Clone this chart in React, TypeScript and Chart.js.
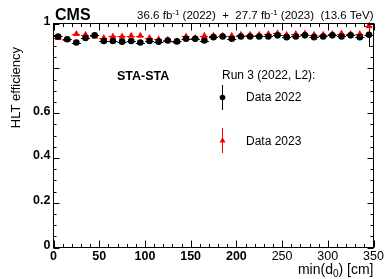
import { useEffect, useRef } from 'react';
import { Chart, registerables } from 'chart.js';

Chart.register(...registerables);

const binCenters = [5, 15, 25, 35, 45, 55, 65, 75, 85, 95, 105, 115, 125, 135, 145, 155, 165, 175, 185, 195, 205, 215, 225, 235, 245, 255, 265, 275, 285, 295, 305, 315, 325, 335, 345];
const binHalfWidth = 5;

const eff2022 = [0.942, 0.930, 0.915, 0.935, 0.947, 0.922, 0.922, 0.919, 0.922, 0.915, 0.922, 0.919, 0.924, 0.920, 0.932, 0.932, 0.924, 0.939, 0.942, 0.932, 0.942, 0.942, 0.942, 0.942, 0.947, 0.939, 0.942, 0.947, 0.939, 0.942, 0.947, 0.942, 0.947, 0.939, 0.950];
const err2022 = [0.005, 0.005, 0.005, 0.005, 0.005, 0.005, 0.005, 0.005, 0.005, 0.005, 0.005, 0.005, 0.005, 0.005, 0.005, 0.005, 0.005, 0.005, 0.005, 0.005, 0.005, 0.005, 0.005, 0.005, 0.005, 0.005, 0.005, 0.005, 0.005, 0.005, 0.005, 0.005, 0.005, 0.005, 0.055];

const eff2023 = [0.935, 0.927, 0.953, 0.950, 0.942, 0.935, 0.942, 0.942, 0.945, 0.945, 0.935, 0.930, 0.927, 0.919, 0.942, 0.935, 0.945, 0.945, 0.945, 0.945, 0.950, 0.950, 0.950, 0.953, 0.957, 0.950, 0.953, 0.955, 0.950, 0.950, 0.953, 0.955, 0.953, 0.953, 0.988];
const err2023 = [0.005, 0.005, 0.005, 0.005, 0.005, 0.005, 0.005, 0.005, 0.005, 0.005, 0.005, 0.005, 0.005, 0.005, 0.005, 0.005, 0.005, 0.005, 0.005, 0.005, 0.005, 0.005, 0.005, 0.005, 0.005, 0.005, 0.005, 0.005, 0.005, 0.005, 0.005, 0.005, 0.005, 0.005, 0.015];

const xMajorTicks = [0, 50, 100, 150, 200, 250, 300, 350];
const xTickLabels = ['0', '50', '100', '150', '200', '250', '300', '350'];
const xTickBold = [true, true, true, true, true, false, false, false];
const xMinorStep = 10;
const yMajorTicks = [0, 0.2, 0.4, 0.6, 0.8, 1];
const yTickLabels = ['0', '0.2', '0.4', '0.6', '', '1'];
const yMinorStep = 0.05;

const FONT = '"Liberation Sans", Arial, Helvetica, sans-serif';

const decor = {
  id: 'decor',
  beforeDatasetsDraw(chart: any) {
    const { ctx, scales } = chart;
    const x = scales.x, y = scales.y;
    ctx.save();
    ctx.lineWidth = 1;
    const drawErr = (vals: number[], errs: number[], color: string, dash: number[]) => {
      ctx.strokeStyle = color;
      vals.forEach((v, i) => {
        const c = binCenters[i];
        const px = Math.round(x.getPixelForValue(c)) + 0.5;
        const py = Math.round(y.getPixelForValue(v)) + 0.5;
        ctx.setLineDash(dash);
        ctx.beginPath();
        ctx.moveTo(x.getPixelForValue(c - binHalfWidth), py);
        ctx.lineTo(x.getPixelForValue(c + binHalfWidth), py);
        ctx.stroke();
        ctx.setLineDash([]);
        ctx.beginPath();
        ctx.moveTo(px, y.getPixelForValue(v - errs[i]));
        ctx.lineTo(px, y.getPixelForValue(v + errs[i]));
        ctx.stroke();
      });
    };
    drawErr(eff2022, err2022, '#000000', []);
    drawErr(eff2023, err2023, '#ff0000', [3, 2]);
    ctx.restore();
  },
  afterDraw(chart: any) {
    const { ctx, chartArea, scales } = chart;
    const x = scales.x, y = scales.y;
    const { left, right, top, bottom } = chartArea;
    ctx.save();
    ctx.strokeStyle = '#000';
    ctx.lineWidth = 1;
    ctx.setLineDash([]);
    ctx.strokeRect(left, top, right - left, bottom - top);

    // x ticks
    ctx.beginPath();
    for (let v = 0; v <= 350 + 1e-6; v += xMinorStep) {
      const px = Math.round(x.getPixelForValue(v)) + 0.5;
      const major = xMajorTicks.includes(Math.round(v));
      const len = major ? 7 : 3.5;
      ctx.moveTo(px, bottom);
      ctx.lineTo(px, bottom - len);
      ctx.moveTo(px, top);
      ctx.lineTo(px, top + len);
    }
    // y ticks
    for (let i = 0; i <= 20; i++) {
      const v = i * yMinorStep;
      const py = Math.round(y.getPixelForValue(v)) + 0.5;
      const major = i % 4 === 0;
      const len = major ? 6 : 3;
      ctx.moveTo(left, py);
      ctx.lineTo(left + len, py);
      ctx.moveTo(right, py);
      ctx.lineTo(right - len, py);
    }
    ctx.stroke();

    ctx.fillStyle = '#000';
    // y labels
    ctx.textAlign = 'right';
    ctx.textBaseline = 'middle';
    ctx.font = `bold 12.5px ${FONT}`;
    yMajorTicks.forEach((v, i) => {
      if (!yTickLabels[i]) return;
      ctx.fillText(yTickLabels[i], left - 3, y.getPixelForValue(v) - 2);
    });
    // x labels
    ctx.textAlign = 'center';
    ctx.textBaseline = 'alphabetic';
    xMajorTicks.forEach((v, i) => {
      ctx.font = `${xTickBold[i] ? 'bold ' : ''}12.5px ${FONT}`;
      ctx.fillText(xTickLabels[i], x.getPixelForValue(v), 260);
    });

    // x title with subscript
    const mainF = `14px ${FONT}`;
    const subF = `10px ${FONT}`;
    ctx.textAlign = 'left';
    ctx.font = mainF;
    const p1 = 'min(d', p3 = ') [cm]';
    const w1 = ctx.measureText(p1).width;
    const w3 = ctx.measureText(p3).width;
    ctx.font = subF;
    const w2 = ctx.measureText('0').width;
    const sx = right - (w1 + w2 + w3);
    const by = 274;
    ctx.font = mainF;
    ctx.fillText(p1, sx, by);
    ctx.font = subF;
    ctx.fillText('0', sx + w1, by + 3);
    ctx.font = mainF;
    ctx.fillText(p3, sx + w1 + w2, by);

    // y title
    ctx.save();
    ctx.translate(20, 47);
    ctx.rotate(-Math.PI / 2);
    ctx.textAlign = 'right';
    ctx.font = `13px ${FONT}`;
    ctx.fillText('HLT efficiency', 0, 0);
    ctx.restore();

    // CMS
    ctx.textAlign = 'left';
    ctx.font = `bold 16px ${FONT}`;
    ctx.fillText('CMS', 55, 20);

    // lumi text
    const lf = `11.5px ${FONT}`;
    const sf = `8px ${FONT}`;
    const parts: [string, boolean][] = [
      ['36.6 fb', false], ['-1', true], [' (2022)  +  27.7 fb', false], ['-1', true], [' (2023)  (13.6 TeV)', false],
    ];
    let total = 0;
    parts.forEach(([t, sup]) => { ctx.font = sup ? sf : lf; total += ctx.measureText(t).width; });
    let lx = right - total;
    parts.forEach(([t, sup]) => {
      ctx.font = sup ? sf : lf;
      ctx.fillText(t, lx, sup ? 14.5 : 18.5);
      lx += ctx.measureText(t).width;
    });

    // STA-STA
    ctx.font = `bold 12.5px ${FONT}`;
    ctx.fillText('STA-STA', 117, 80);

    // legend
    ctx.font = `12px ${FONT}`;
    ctx.fillText('Run 3 (2022, L2):', 222, 79);
    ctx.fillText('Data 2022', 246, 101);
    ctx.fillText('Data 2023', 246, 145);
    ctx.strokeStyle = '#000';
    ctx.beginPath();
    ctx.moveTo(222.5, 85);
    ctx.lineTo(222.5, 110);
    ctx.stroke();
    ctx.beginPath();
    ctx.arc(222.5, 97.5, 2.8, 0, Math.PI * 2);
    ctx.fillStyle = '#000';
    ctx.fill();
    ctx.strokeStyle = '#ff0000';
    ctx.beginPath();
    ctx.moveTo(222.5, 128);
    ctx.lineTo(222.5, 153);
    ctx.stroke();
    ctx.fillStyle = '#ff0000';
    ctx.beginPath();
    ctx.moveTo(222.5, 137);
    ctx.lineTo(225.5, 142.5);
    ctx.lineTo(219.5, 142.5);
    ctx.closePath();
    ctx.fill();
    ctx.restore();
  },
};

export default function App() {
  const ref = useRef<HTMLCanvasElement>(null);
  useEffect(() => {
    if (!ref.current) return;
    const chart = new Chart(ref.current, {
      type: 'scatter',
      data: {
        datasets: [
          {
            label: 'Data 2022',
            data: binCenters.map((c, i) => ({ x: c, y: eff2022[i] })),
            pointStyle: 'circle',
            pointRadius: 3.3,
            backgroundColor: '#000000',
            borderWidth: 0,
            clip: false as any,
          },
          {
            label: 'Data 2023',
            data: binCenters.map((c, i) => ({ x: c, y: eff2023[i] })),
            pointStyle: 'triangle',
            pointRadius: 4,
            backgroundColor: '#ff0000',
            borderWidth: 0,
            clip: false as any,
          },
        ],
      },
      options: {
        animation: false,
        responsive: false,
        devicePixelRatio: 1,
        layout: { padding: { left: 53.5, right: 15.5, top: 23.5, bottom: 31.5 } },
        scales: {
          x: { type: 'linear', min: 0, max: 350, display: false },
          y: { type: 'linear', min: 0, max: 1, display: false },
        },
        plugins: { legend: { display: false }, tooltip: { enabled: false } },
      },
      plugins: [decor],
    });
    return () => chart.destroy();
  }, []);
  return (
    <div style={{ position: 'fixed', left: 0, top: 0, width: 389, height: 279, background: '#fff' }}>
      <canvas ref={ref} width={389} height={279} />
    </div>
  );
}
